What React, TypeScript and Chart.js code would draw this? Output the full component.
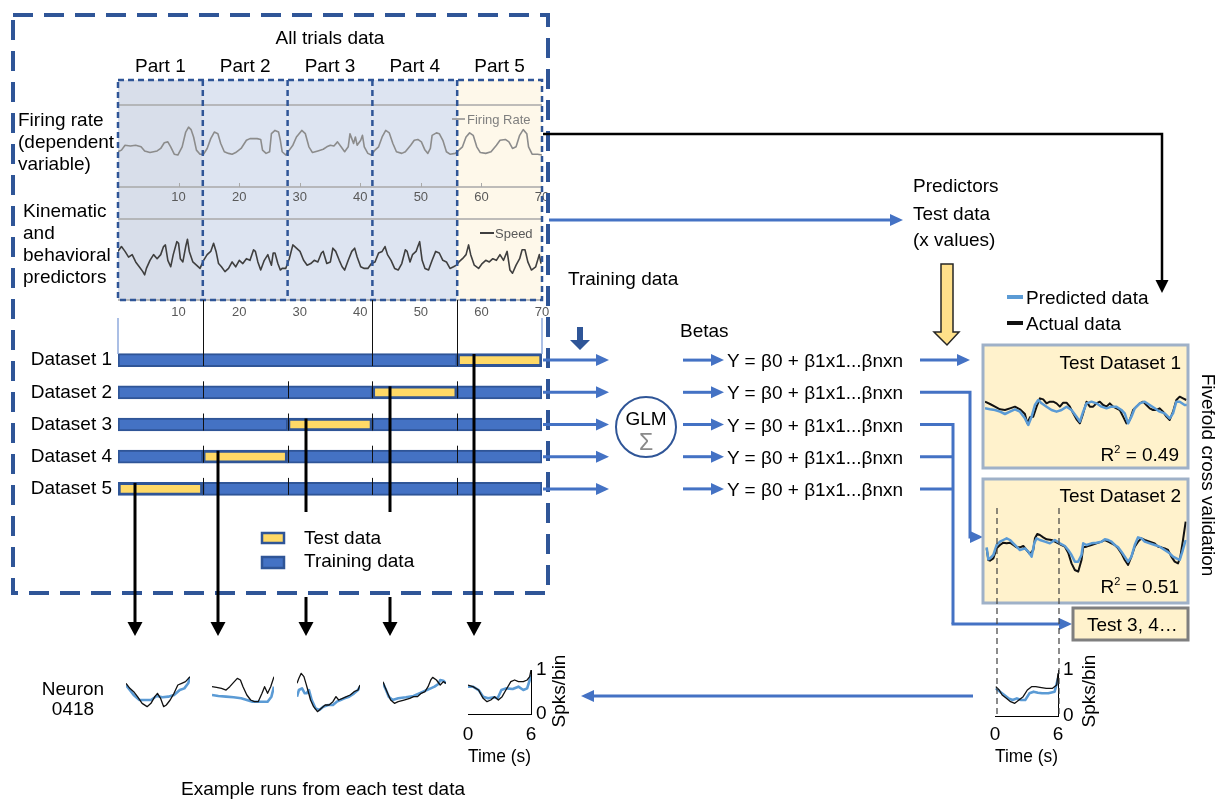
import React, { useEffect, useRef } from 'react';
import { Chart, registerables } from 'chart.js';

Chart.register(...registerables);

const FONT = '"Liberation Sans", Arial, Helvetica, sans-serif';
Chart.defaults.font.family = FONT;

// ---------------- data ----------------
const partLabels = ['Part 1', 'Part 2', 'Part 3', 'Part 4', 'Part 5'];
const partBounds = [0, 14, 28, 42, 56, 70];
const partFills = ['#D8DEEA', '#DDE4F1', '#DDE4F1', '#DDE4F1', '#FEF8EA'];
const axisMax = 70;

// Firing rate (top trace)
const frTime = [
  0, 0.57, 1.16, 2.04, 2.92, 3.81, 4.4, 5.28, 5.87, 6.46, 7.05, 7.64, 8.23, 8.7, 9.29, 9.88, 10.59, 11.18, 11.65, 12.06, 12.48, 12.95, 13.54,
  14.13, 14.72, 15.31, 15.9, 16.49, 16.96, 17.55, 18.25, 18.84, 19.43, 20.32, 21.2, 21.79, 22.97, 23.56, 23.86, 24.45, 25.03, 25.33, 25.92, 26.51, 26.8, 27.1, 27.69,
  28.28, 28.87, 29.46, 30.34, 30.93, 31.52, 32.11, 33.0, 33.88, 34.47, 35.06, 35.65, 36.24, 36.83, 37.42, 38.01, 38.3, 38.6, 38.89, 39.19, 39.48, 40.07, 40.36, 40.66, 41.25, 41.84,
  42.43, 43.02, 43.61, 44.2, 44.79, 45.38, 45.97, 46.85, 47.44, 48.32, 48.91, 49.5, 50.09, 50.68, 51.15, 51.57, 51.86, 52.57, 53.04, 53.63, 54.22, 54.81, 55.69,
  56.28, 56.87, 57.46, 58.05, 58.64, 59.23, 59.82, 60.71, 61.59, 62.48, 63.07, 63.95, 64.54, 65.13, 65.72, 66.31, 66.9, 67.49, 67.78, 68.37, 69.26, 70.0,
];
const frRate = [
  4.3, 4.5, 5.1, 5.0, 5.1, 4.9, 4.4, 4.2, 4.3, 4.4, 4.7, 5.4, 5.5, 4.9, 4.0, 3.9, 4.9, 6.7, 7.3, 7.0, 6.1, 4.5, 4.0,
  4.0, 4.7, 5.9, 6.7, 6.5, 5.3, 4.3, 4.1, 4.0, 4.2, 4.7, 5.7, 5.9, 5.9, 5.8, 4.5, 4.1, 4.3, 6.5, 6.9, 6.7, 5.7, 4.3, 3.9,
  4.5, 5.1, 6.1, 6.9, 6.5, 4.9, 4.2, 4.4, 4.6, 4.9, 5.1, 5.0, 5.5, 4.9, 4.3, 4.9, 6.5, 5.9, 5.3, 6.1, 5.1, 5.7, 6.3, 4.9, 4.1, 3.9,
  4.5, 4.9, 6.1, 6.9, 6.6, 5.3, 4.3, 4.1, 4.3, 5.1, 5.7, 5.8, 5.5, 4.5, 4.1, 4.7, 6.3, 6.6, 6.5, 5.7, 4.3, 4.0, 4.1,
  4.5, 4.9, 6.1, 6.6, 6.3, 4.9, 4.2, 4.1, 4.3, 5.1, 5.7, 5.8, 5.5, 4.7, 4.9, 6.3, 7.0, 6.5, 4.9, 4.0, 4.0, 3.9,
];

// Speed (kinematic predictor)
const spTime = [
  0, 0.57, 1.16, 1.75, 2.34, 2.92, 3.51, 4.1, 4.4, 4.69, 5.28, 5.87, 6.46, 7.05, 7.52, 7.82, 8.23, 8.7, 9.12, 9.71, 10.0, 10.29, 10.71, 11.18, 11.47, 11.77, 12.36, 12.95, 13.54,
  14.13, 14.72, 15.31, 15.78, 16.19, 16.6, 17.08, 17.66, 18.25, 18.84, 19.43, 20.02, 20.61, 21.2, 21.79, 22.38, 22.68, 23.09, 23.56, 24.15, 24.74, 25.03, 25.33, 25.62, 25.92, 26.39, 26.8, 27.1, 27.69,
  28.28, 28.87, 29.46, 30.05, 30.64, 31.23, 31.82, 32.4, 32.99, 33.58, 33.88, 34.47, 35.06, 35.47, 35.94, 36.53, 37.0, 37.42, 38.01, 38.6, 39.07, 39.48, 40.07, 40.66, 41.25, 41.84,
  42.43, 43.02, 43.61, 44.08, 44.49, 45.08, 45.67, 46.26, 46.85, 47.44, 47.73, 48.21, 48.62, 49.21, 49.5, 49.8, 50.21, 50.68, 51.27, 51.86, 52.45, 53.04, 53.63, 54.22, 54.81, 55.4, 55.87,
  56.28, 56.87, 57.46, 57.88, 58.23, 58.82, 59.53, 60.12, 60.71, 61.3, 61.88, 62.47, 63.06, 63.65, 64.24, 64.71, 65.13, 65.72, 66.31, 66.72, 67.19, 67.66, 68.25, 68.96, 69.55, 69.84,
];
const spSpeed = [
  6.0, 6.6, 6.0, 5.3, 5.6, 4.7, 4.1, 3.5, 3.1, 3.9, 4.9, 5.6, 5.1, 5.6, 6.6, 6.8, 4.9, 4.1, 5.6, 7.2, 7.0, 5.1, 4.7, 6.6, 7.5, 6.0, 4.7, 4.3, 3.9,
  4.9, 5.6, 6.0, 7.0, 6.0, 4.5, 4.1, 3.5, 3.9, 4.7, 4.1, 4.9, 4.5, 5.1, 4.9, 6.2, 6.0, 4.7, 3.7, 4.9, 5.6, 4.9, 4.3, 5.8, 5.8, 4.5, 3.7, 3.9, 3.9,
  5.1, 6.8, 6.4, 6.0, 4.9, 4.3, 4.5, 4.9, 4.7, 5.8, 6.0, 4.5, 4.7, 6.4, 6.0, 4.9, 4.1, 3.7, 4.9, 6.0, 6.4, 5.3, 4.1, 3.9, 3.9, 4.5,
  4.7, 5.8, 6.0, 6.6, 5.6, 4.9, 3.9, 3.7, 4.5, 6.2, 6.0, 4.7, 5.6, 6.0, 6.6, 7.2, 4.9, 3.9, 3.7, 4.9, 6.0, 5.8, 4.9, 4.7, 3.9, 4.1, 4.3,
  4.7, 5.1, 5.6, 6.8, 5.6, 4.3, 3.9, 4.5, 4.9, 4.7, 5.1, 4.9, 5.6, 4.9, 6.0, 3.7, 3.3, 4.3, 5.1, 6.2, 6.2, 4.7, 3.7, 4.1, 5.6, 4.5,
];

// Five-fold datasets (stacked horizontal bars)
const datasetNames = ['Dataset 1', 'Dataset 2', 'Dataset 3', 'Dataset 4', 'Dataset 5'];
const trainBefore = [56, 42, 28, 14, null];
const testPart = [14, 14, 14, 14, 14];
const trainAfter = [null, 14, 28, 42, 56];

// Test Dataset 1 panel
const td1ActT = [0, 1.5, 3, 4.5, 6, 7.5, 9, 10.5, 12, 12.7, 13.5, 14.5, 15.5, 16.5, 17.5, 18.5, 19.5, 20.5, 21.5, 22.5, 23.5, 24.5, 25.5, 26.5, 27.5, 28.5, 29.5, 30.5, 31.5, 32.5, 33.5, 34.5, 35.5, 36.5, 37.5, 38.5, 39.5, 40.5, 41.5, 42.5, 43.5, 44.5, 45.5, 46.5, 47.5, 48.5, 49.5, 50.5, 51.5, 52.5, 53.5, 54.5, 55.5, 56.5, 57.5, 58.5, 59.5, 60.5];
const td1Act = [7.5, 6.8, 6.0, 5.2, 5.0, 5.5, 6.0, 5.2, 3.8, 1.0, 2.8, 3.0, 6.0, 8.5, 8.2, 7.0, 7.5, 7.5, 7.0, 6.0, 7.2, 7.2, 6.0, 4.0, 2.2, 1.0, 4.0, 7.5, 6.0, 6.0, 7.0, 7.5, 6.5, 6.0, 7.0, 6.0, 5.5, 5.0, 3.0, 1.0, 2.0, 5.0, 6.0, 7.0, 7.5, 6.5, 5.5, 5.0, 5.0, 5.5, 4.5, 3.0, 2.0, 4.5, 8.0, 9.0, 8.5, 8.0];
const td1PredT = [0, 1.5, 3, 4.5, 6, 7.5, 9, 10.5, 12, 13, 14, 15, 16, 17, 18.5, 20, 21.5, 23, 24.5, 26, 27.5, 28.5, 29.5, 30.5, 32, 33.5, 35, 36.5, 38, 39.5, 41, 42, 43, 44, 45, 46.5, 48, 49.5, 51, 52.5, 54, 55.5, 56.5, 57.5, 58.5, 60, 61];
const td1Pred = [5.5, 5.2, 5.0, 4.5, 3.8, 4.5, 5.2, 4.5, 2.5, 0.5, 3.0, 6.5, 8.0, 7.0, 6.0, 5.0, 4.5, 5.0, 6.0, 5.0, 3.0, 1.5, 4.5, 7.0, 7.5, 7.0, 6.0, 5.5, 6.0, 6.0, 5.0, 4.0, 1.0, 3.0, 5.5, 7.0, 7.5, 6.5, 5.5, 4.5, 4.0, 2.5, 4.0, 7.5, 7.5, 6.5, 6.5];

// Test Dataset 2 panel
const td2ActT = [0.5, 1, 1.5, 2.5, 3.5, 4.5, 5.5, 6.5, 7.5, 8.5, 9.5, 10.5, 11.5, 12.5, 13.5, 14.5, 15, 15.7, 16.5, 17.5, 18.5, 20, 21, 22, 23, 24, 25, 26, 27, 28, 29, 29.5, 30.5, 32, 33.5, 35, 36, 37, 38, 39, 40, 41, 42, 43, 44, 45, 46, 47, 48, 49.5, 51, 52, 53, 54, 55, 56, 57, 58, 58.7, 59.5, 60.3];
const td2Act = [9.5, 6.0, 5.8, 6.5, 9.5, 10.5, 11.2, 11.0, 11.2, 10.5, 9.8, 9.8, 10.2, 9.0, 7.8, 9.0, 12.5, 13.8, 13.5, 12.8, 12.2, 12.0, 11.5, 11.0, 10.5, 10.0, 8.2, 5.0, 3.0, 2.5, 6.0, 9.8, 10.0, 10.5, 11.0, 11.5, 12.0, 11.5, 11.0, 10.5, 9.5, 8.0, 6.0, 4.5, 7.0, 10.0, 11.5, 12.5, 12.0, 11.5, 11.0, 10.0, 9.8, 9.5, 9.0, 7.0, 5.5, 5.0, 7.0, 12.0, 17.5];
const td2PredT = [0.5, 1, 1.5, 2.5, 3.5, 4.5, 5.5, 6.5, 7.5, 8.5, 9.5, 10.5, 12, 13, 14, 14.8, 15.5, 16.5, 18, 19.5, 21, 22.5, 24, 25, 26, 27, 28, 29, 29.5, 30.5, 32, 33.5, 35, 36, 37, 38, 39, 40, 41, 42, 43, 44, 45, 46, 47, 48, 49.5, 51, 52.5, 54, 55.5, 56.5, 57.5, 58.5, 59.3, 60.3];
const td2Pred = [9.8, 6.2, 6.5, 7.5, 10.5, 11.5, 12.0, 12.5, 12.0, 11.0, 10.0, 9.0, 9.5, 8.5, 7.0, 11.0, 12.5, 12.0, 11.5, 11.0, 12.0, 11.0, 10.2, 9.0, 7.5, 5.5, 5.5, 7.5, 11.0, 10.5, 11.0, 11.2, 11.5, 12.2, 12.0, 11.5, 10.5, 9.8, 8.5, 7.0, 5.5, 7.0, 10.5, 12.8, 12.5, 11.5, 11.0, 10.5, 10.0, 9.0, 8.0, 7.0, 6.5, 6.0, 8.5, 12.0];

// Example runs (Spks/bin over 0-6 s)
const ex1ActT = [0, 0.36, 0.72, 1.08, 1.51, 1.98, 2.34, 2.7, 2.95, 3.24, 3.53, 3.78, 4.14, 4.5, 4.86, 5.22, 5.58, 6.0];
const ex1Act = [0.697, 0.583, 0.508, 0.394, 0.242, 0.167, 0.242, 0.394, 0.47, 0.356, 0.167, 0.205, 0.318, 0.47, 0.659, 0.697, 0.735, 0.848];
const ex1PredT = [0, 0.36, 0.72, 1.26, 1.8, 2.34, 2.88, 3.42, 3.96, 4.5, 5.04, 5.47, 5.83, 6.0];
const ex1Pred = [0.659, 0.545, 0.432, 0.318, 0.318, 0.318, 0.409, 0.379, 0.394, 0.432, 0.545, 0.583, 0.697, 0.833];

const ex2ActT = [0, 0.44, 0.92, 1.36, 1.72, 2.16, 2.45, 2.75, 3.0, 3.37, 3.74, 4.1, 4.47, 4.84, 5.09, 5.38, 5.68, 6.0];
const ex2Act = [0.621, 0.606, 0.583, 0.545, 0.621, 0.735, 0.811, 0.773, 0.621, 0.432, 0.318, 0.28, 0.28, 0.47, 0.621, 0.47, 0.621, 0.848];
const ex2PredT = [0, 0.62, 1.36, 2.09, 2.82, 3.37, 3.92, 4.65, 5.38, 5.75, 6.0];
const ex2Pred = [0.432, 0.409, 0.394, 0.379, 0.356, 0.318, 0.28, 0.28, 0.28, 0.394, 0.621];

const ex3ActT = [0, 0.18, 0.4, 0.66, 0.85, 1.03, 1.29, 1.58, 1.95, 2.32, 2.68, 3.05, 3.42, 3.71, 3.97, 4.34, 4.71, 5.07, 5.44, 5.81, 6.0];
const ex3Act = [0.697, 0.811, 0.924, 0.848, 0.697, 0.545, 0.318, 0.167, 0.053, 0.129, 0.205, 0.205, 0.28, 0.394, 0.318, 0.356, 0.394, 0.432, 0.508, 0.545, 0.659];
const ex3PredT = [0, 0.18, 0.48, 0.74, 0.92, 1.14, 1.4, 1.76, 2.13, 2.5, 2.98, 3.42, 3.79, 4.15, 4.52, 4.96, 5.44, 5.81, 6.0];
const ex3Pred = [0.394, 0.545, 0.583, 0.47, 0.47, 0.545, 0.318, 0.129, 0.091, 0.167, 0.205, 0.205, 0.28, 0.318, 0.356, 0.394, 0.47, 0.545, 0.621];

const ex4ActT = [0, 0.18, 0.44, 0.73, 1.09, 1.45, 2.0, 2.55, 2.91, 3.27, 3.64, 4.0, 4.29, 4.55, 4.73, 5.09, 5.45, 5.75, 6.0];
const ex4Act = [0.735, 0.621, 0.47, 0.318, 0.242, 0.28, 0.318, 0.356, 0.394, 0.394, 0.47, 0.508, 0.621, 0.773, 0.833, 0.773, 0.659, 0.735, 0.697];
const ex4PredT = [0, 0.29, 0.55, 0.91, 1.45, 2.18, 2.91, 3.45, 3.82, 4.18, 4.55, 4.91, 5.27, 5.45, 5.75, 6.0];
const ex4Pred = [0.697, 0.545, 0.394, 0.318, 0.356, 0.379, 0.409, 0.47, 0.508, 0.545, 0.583, 0.621, 0.682, 0.773, 0.758, 0.697];

const ex5ActT = [0, 0.47, 1.01, 1.44, 1.81, 2.17, 2.53, 2.89, 3.25, 3.61, 4.08, 4.44, 4.8, 5.27, 5.63, 5.88, 6.0];
const ex5Act = [0.659, 0.621, 0.545, 0.356, 0.28, 0.318, 0.394, 0.318, 0.394, 0.545, 0.735, 0.773, 0.735, 0.735, 0.773, 0.848, 1.0];
const ex5PredT = [0, 0.47, 1.01, 1.44, 1.91, 2.45, 2.82, 3.18, 3.61, 4.26, 4.8, 5.27, 5.63, 5.88, 6.0];
const ex5Pred = [0.621, 0.621, 0.545, 0.394, 0.356, 0.379, 0.356, 0.545, 0.583, 0.568, 0.621, 0.545, 0.583, 0.773, 0.886];

const exZoomActT = [0.08, 0.4, 0.68, 1.08, 1.48, 1.88, 2.28, 2.68, 3.08, 3.48, 3.88, 4.28, 4.88, 5.48, 5.88, 6.0];
const exZoomAct = [0.638, 0.565, 0.457, 0.384, 0.312, 0.275, 0.348, 0.42, 0.565, 0.638, 0.638, 0.623, 0.601, 0.601, 0.674, 0.928];
const exZoomPredT = [0.08, 0.48, 0.88, 1.28, 1.68, 2.08, 2.48, 2.88, 3.28, 3.68, 4.08, 4.48, 5.08, 5.68, 6.0];
const exZoomPred = [0.601, 0.529, 0.457, 0.384, 0.348, 0.384, 0.348, 0.348, 0.493, 0.529, 0.507, 0.493, 0.493, 0.529, 0.819];

const equation = 'Y = \u03B20 + \u03B21x1...\u03B2nxn';

// ---------------- style constants ----------------
const BLUE = '#4472C4';
const DARK = '#2F5597';
const PRED = '#5B9BD5';
const AX_L = 118;
const AX_R = 542;
const sx = (v: number) => AX_L + (v / axisMax) * (AX_R - AX_L);
const BAR_TOP = 344;
const BAR_H = 161;
const rowY = (i: number) => BAR_TOP + (BAR_H * (i + 0.5)) / 5;

const pts = (xs: number[], ys: number[]) => xs.map((x, i) => ({ x, y: ys[i] }));

const baseOpts = (extra: any = {}) => ({
  responsive: false,
  animation: false,
  devicePixelRatio: 1,
  events: [],
  plugins: { legend: { display: false }, tooltip: { enabled: false } },
  ...extra,
});

const lineDs = (data: any, color: string, width: number) => ({
  data,
  borderColor: color,
  borderWidth: width,
  pointRadius: 0,
  tension: 0,
  fill: false,
  borderJoinStyle: 'round',
});

function ChartCanvas({ x, y, w, h, build }: { x: number; y: number; w: number; h: number; build: () => any }) {
  const ref = useRef<HTMLCanvasElement | null>(null);
  useEffect(() => {
    const chart = new Chart(ref.current as HTMLCanvasElement, build());
    return () => chart.destroy();
  }, []);
  return (
    <canvas
      ref={ref}
      width={w}
      height={h}
      style={{ position: 'absolute', left: x, top: y, width: w, height: h, zIndex: 1 }}
    />
  );
}

// plugins
const framePlugin = {
  id: 'frameLines',
  beforeDatasetsDraw(chart: any) {
    const { ctx, chartArea, scales } = chart;
    const ys = scales.y;
    ctx.save();
    ctx.strokeStyle = '#A9A9A9';
    ctx.lineWidth = 1.5;
    [ys.max, ys.min].forEach((v: number) => {
      const py = ys.getPixelForValue(v);
      ctx.beginPath();
      ctx.moveTo(chartArea.left, py);
      ctx.lineTo(chartArea.right, py);
      ctx.stroke();
    });
    ctx.restore();
  },
};

const innerTickPlugin = {
  id: 'innerTicks',
  afterDatasetsDraw(chart: any) {
    const { ctx, chartArea, scales } = chart;
    const xs = scales.x;
    ctx.save();
    ctx.strokeStyle = '#A9A9A9';
    ctx.lineWidth = 1;
    xs.ticks.forEach((t: any) => {
      if (t.value <= 0 || t.value >= axisMax) return;
      const px = Math.round(xs.getPixelForValue(t.value)) + 0.5;
      ctx.beginPath();
      ctx.moveTo(px, chartArea.bottom - 4);
      ctx.lineTo(px, chartArea.bottom);
      ctx.stroke();
    });
    ctx.restore();
  },
};

const barTickPlugin = {
  id: 'barTicks',
  afterDatasetsDraw(chart: any) {
    const { ctx, scales } = chart;
    ctx.save();
    ctx.strokeStyle = '#111';
    ctx.lineWidth = 1;
    for (let i = 1; i < datasetNames.length; i++) {
      const py = scales.y.getPixelForValue(i);
      partBounds.slice(1, -1).forEach((b) => {
        const px = Math.round(scales.x.getPixelForValue(b)) + 0.5;
        ctx.beginPath();
        ctx.moveTo(px, py - 11);
        ctx.lineTo(px, py + 6);
        ctx.stroke();
      });
    }
    ctx.restore();
  },
};

const signalChart = (xs: number[], ys: number[], color: string, labelPad: number, withTicks: boolean) => () => ({
  type: 'line',
  data: { datasets: [lineDs(pts(xs, ys), color, 1.6)] },
  options: baseOpts({
    layout: { padding: { left: 20, right: 20, top: 10, bottom: 0 } },
    scales: {
      x: {
        type: 'linear',
        min: 0,
        max: axisMax,
        grid: { display: false, drawTicks: false },
        border: { display: false },
        ticks: {
          stepSize: 10,
          padding: labelPad,
          color: '#595959',
          font: { size: 13 },
          maxRotation: 0,
          autoSkip: false,
          callback: (v: any) => (v === 0 ? '' : String(v)),
        },
        afterFit: (s: any) => {
          s.height = 18;
          s.paddingLeft = 0;
          s.paddingRight = 0;
        },
      },
      y: { display: false, min: 0, max: 10 },
    },
  }),
  plugins: withTicks ? [framePlugin, innerTickPlugin] : [framePlugin],
});

const barChart = () => {
  const common = { borderColor: DARK, borderSkipped: false, barThickness: 13 };
  return {
    type: 'bar',
    data: {
      labels: datasetNames,
      datasets: [
        { data: trainBefore, backgroundColor: BLUE, borderWidth: 2, ...common },
        { data: testPart, backgroundColor: '#FFD966', borderWidth: 3, ...common },
        { data: trainAfter, backgroundColor: BLUE, borderWidth: 2, ...common },
      ],
    },
    options: baseOpts({
      indexAxis: 'y',
      layout: { padding: 0 },
      scales: {
        x: { type: 'linear', display: false, min: 0, max: axisMax, stacked: true },
        y: {
          stacked: true,
          grid: { display: false, drawTicks: false },
          border: { display: false },
          ticks: { color: '#000', font: { size: 19 }, padding: 6, autoSkip: false },
          afterFit: (s: any) => {
            s.width = AX_L;
            s.paddingTop = 0;
            s.paddingBottom = 0;
          },
        },
      },
    }),
    plugins: [barTickPlugin],
  };
};

const panelChart = (predT: number[], pred: number[], actT: number[], act: number[], yMin: number, yMax: number) => () => ({
  type: 'line',
  data: {
    datasets: [lineDs(pts(predT, pred), PRED, 2.5), lineDs(pts(actT, act), '#111', 2)],
  },
  options: baseOpts({
    layout: { padding: 0 },
    scales: {
      x: { type: 'linear', display: false, min: 0, max: 61 },
      y: { display: false, min: yMin, max: yMax },
    },
  }),
});

const smallChart = (actT: number[], act: number[], predT: number[], pred: number[]) => () => ({
  type: 'line',
  data: {
    datasets: [lineDs(pts(actT, act), '#111', 1.3), lineDs(pts(predT, pred), PRED, 2.6)],
  },
  options: baseOpts({
    layout: { padding: 4 },
    scales: {
      x: { type: 'linear', display: false, min: 0, max: 6 },
      y: { display: false, min: 0, max: 1 },
    },
  }),
});

const axisChart = (actT: number[], act: number[], predT: number[], pred: number[], tickPad: number, xAxisH: number) => () => ({
  type: 'line',
  data: {
    datasets: [lineDs(pts(actT, act), '#111', 1.3), lineDs(pts(predT, pred), PRED, 2.6)],
  },
  options: baseOpts({
    layout: { padding: { left: 10, top: 12, right: 0, bottom: 0 } },
    scales: {
      x: {
        type: 'linear',
        min: 0,
        max: 6,
        position: 'bottom',
        grid: { display: false, drawTicks: false },
        border: { display: true, color: '#000', width: 1 },
        ticks: { stepSize: 6, padding: tickPad, color: '#000', font: { size: 19 }, maxRotation: 0 },
        title: { display: true, text: 'Time (s)', color: '#000', font: { size: 19 }, padding: 0 },
        afterFit: (s: any) => {
          s.height = xAxisH;
          s.paddingLeft = 0;
          s.paddingRight = 0;
        },
      },
      y: {
        min: 0,
        max: 1,
        position: 'right',
        grid: { display: false, drawTicks: false },
        border: { display: true, color: '#000', width: 1 },
        ticks: { stepSize: 1, padding: 5, color: '#000', font: { size: 19 } },
        afterFit: (s: any) => {
          s.width = 20;
          s.paddingTop = 0;
          s.paddingBottom = 0;
        },
      },
    },
  }),
});

// ---------------- svg helpers ----------------
function ArrowH({ x1, x2, y, color, w = 3, hl = 13, hw = 12 }: any) {
  const dir = x2 > x1 ? 1 : -1;
  const base = x2 - dir * hl;
  return (
    <g>
      <line x1={x1} y1={y} x2={base + dir * 1} y2={y} stroke={color} strokeWidth={w} />
      <polygon points={`${x2},${y} ${base},${y - hw / 2} ${base},${y + hw / 2}`} fill={color} />
    </g>
  );
}

function ArrowDown({ x, y1, y2, color, w = 3, hl = 14, hw = 15 }: any) {
  const base = y2 - hl;
  return (
    <g>
      <line x1={x} y1={y1} x2={x} y2={base + 1} stroke={color} strokeWidth={w} />
      <polygon points={`${x},${y2} ${x - hw / 2},${base} ${x + hw / 2},${base}`} fill={color} />
    </g>
  );
}

function Txt({ x, y, children, size = 19, anchor = 'start', fill = '#000', transform, weight }: any) {
  return (
    <text
      x={x}
      y={y}
      fontSize={size}
      textAnchor={anchor}
      fill={fill}
      fontFamily={FONT}
      transform={transform}
      fontWeight={weight}
    >
      {children}
    </text>
  );
}

export default function App() {
  const partCenters = partLabels.map((_, i) => sx((partBounds[i] + partBounds[i + 1]) / 2));
  const blackDrops = [
    { x: 474, top: rowY(0) - 6, breakAt: null },
    { x: 390, top: rowY(1) - 6, breakAt: 512 },
    { x: 306, top: rowY(2) - 6, breakAt: 512 },
    { x: 218, top: rowY(3) - 6, breakAt: null },
    { x: 135, top: rowY(4) - 6, breakAt: null },
  ];

  return (
    <div
      style={{
        position: 'absolute',
        left: 0,
        top: 0,
        width: 1217,
        height: 799,
        background: '#fff',
        overflow: 'hidden',
        fontFamily: FONT,
      }}
    >
      {/* background layer */}
      <svg width={1217} height={799} style={{ position: 'absolute', left: 0, top: 0, zIndex: 0 }}>
        {partLabels.map((_, i) => (
          <rect
            key={i}
            x={sx(partBounds[i])}
            y={80}
            width={sx(partBounds[i + 1]) - sx(partBounds[i])}
            height={220}
            fill={partFills[i]}
          />
        ))}
        <rect x={983} y={345} width={205} height={123} fill="#FFF2CC" />
        <rect x={983} y={479} width={205} height={124} fill="#FFF2CC" />
      </svg>

      {/* charts */}
      <ChartCanvas x={98} y={95} w={464} h={110} build={signalChart(frTime, frRate, '#8C8C8C', 3, true)} />
      <ChartCanvas x={98} y={209} w={464} h={109} build={signalChart(spTime, spSpeed, '#3F3F3F', 5, false)} />
      <ChartCanvas x={0} y={BAR_TOP} w={AX_R} h={BAR_H} build={barChart} />
      <ChartCanvas x={985} y={390} w={203} h={40} build={panelChart(td1PredT, td1Pred, td1ActT, td1Act, -1, 11)} />
      <ChartCanvas x={985} y={515} w={203} h={65} build={panelChart(td2PredT, td2Pred, td2ActT, td2Act, 0, 19.5)} />
      <ChartCanvas x={122} y={666} w={72} h={52} build={smallChart(ex1ActT, ex1Act, ex1PredT, ex1Pred)} />
      <ChartCanvas x={208} y={666} w={70} h={52} build={smallChart(ex2ActT, ex2Act, ex2PredT, ex2Pred)} />
      <ChartCanvas x={293} y={666} w={71} h={52} build={smallChart(ex3ActT, ex3Act, ex3PredT, ex3Pred)} />
      <ChartCanvas x={379} y={666} w={71} h={52} build={smallChart(ex4ActT, ex4Act, ex4PredT, ex4Pred)} />
      <ChartCanvas x={458} y={658} w={93} h={110} build={axisChart(ex5ActT, ex5Act, ex5PredT, ex5Pred, 9, 54)} />
      <ChartCanvas x={985} y={658} w={93} h={110} build={axisChart(exZoomActT, exZoomAct, exZoomPredT, exZoomPred, 7, 52)} />

      {/* foreground layer */}
      <svg width={1217} height={799} style={{ position: 'absolute', left: 0, top: 0, zIndex: 2 }}>
        {/* outer dashed frame */}
        <rect x={13} y={15} width={535} height={578} fill="none" stroke={DARK} strokeWidth={4} strokeDasharray="20 11" />
        {/* inner dotted part frame */}
        <rect x={AX_L} y={80} width={AX_R - AX_L} height={220} fill="none" stroke={DARK} strokeWidth={2.5} strokeDasharray="6 4" />
        {partBounds.slice(1, -1).map((b) => (
          <line key={b} x1={sx(b)} y1={80} x2={sx(b)} y2={300} stroke={DARK} strokeWidth={2.5} strokeDasharray="6 4" />
        ))}

        <Txt x={330} y={44} anchor="middle">All trials data</Txt>
        {partLabels.map((p, i) => (
          <Txt key={p} x={partCenters[i]} y={72} anchor="middle">{p}</Txt>
        ))}

        <Txt x={18} y={126}>Firing rate</Txt>
        <Txt x={18} y={148}>(dependent</Txt>
        <Txt x={18} y={170}>variable)</Txt>
        <Txt x={23} y={217}>Kinematic</Txt>
        <Txt x={23} y={239}>and</Txt>
        <Txt x={23} y={261}>behavioral</Txt>
        <Txt x={23} y={283}>predictors</Txt>

        {/* chart legends */}
        <line x1={452} y1={119} x2={465} y2={119} stroke="#8C8C8C" strokeWidth={1.5} />
        <Txt x={467} y={124} size={13} fill="#7F7F7F">Firing Rate</Txt>
        <line x1={480} y1={233} x2={494} y2={233} stroke="#3F3F3F" strokeWidth={2} />
        <Txt x={495} y={238} size={13} fill="#595959">Speed</Txt>

        {/* axis-to-bars connectors */}
        <line x1={AX_L} y1={318} x2={AX_L} y2={354} stroke="#8FAADC" strokeWidth={1.5} />
        <line x1={AX_R} y1={318} x2={AX_R} y2={354} stroke="#8FAADC" strokeWidth={1.5} />
        {[14, 42, 56].map((b) => (
          <line key={b} x1={Math.round(sx(b)) + 0.5} y1={300} x2={Math.round(sx(b)) + 0.5} y2={366} stroke="#111" strokeWidth={1} />
        ))}

        {/* black drops to example runs */}
        {blackDrops.map((d, i) =>
          d.breakAt ? (
            <g key={i}>
              <line x1={d.x} y1={d.top} x2={d.x} y2={d.breakAt} stroke="#000" strokeWidth={3} />
              <ArrowDown x={d.x} y1={597} y2={636} color="#000" />
            </g>
          ) : (
            <ArrowDown key={i} x={d.x} y1={d.top} y2={636} color="#000" />
          ),
        )}

        {/* legend */}
        <rect x={262} y={533} width={22} height={10} fill="#FFD966" stroke={DARK} strokeWidth={2.5} />
        <Txt x={304} y={544}>Test data</Txt>
        <rect x={262} y={557} width={22} height={11} fill={BLUE} stroke={DARK} strokeWidth={2.5} />
        <Txt x={304} y={567}>Training data</Txt>

        {/* arrows bars -> GLM */}
        {datasetNames.map((_, i) => (
          <ArrowH key={'a' + i} x1={543} x2={609} y={rowY(i)} color={BLUE} />
        ))}
        <Txt x={568} y={285}>Training data</Txt>
        <polygon points="577,327 583,327 583,340 590,340 580,350 570,340 577,340" fill={DARK} />

        {/* GLM */}
        <circle cx={646} cy={427} r={30} fill="#fff" stroke={DARK} strokeWidth={2} />
        <Txt x={646} y={425} anchor="middle">GLM</Txt>
        <Txt x={646} y={450} anchor="middle" size={23} fill="#8A8A8A">{'\u03A3'}</Txt>
        <Txt x={680} y={337}>Betas</Txt>
        {datasetNames.map((_, i) => (
          <g key={'e' + i}>
            <ArrowH x1={683} x2={724} y={rowY(i)} color={BLUE} />
            <Txt x={727} y={rowY(i) + 7}>{equation}</Txt>
          </g>
        ))}

        {/* equation outputs */}
        <ArrowH x1={920} x2={970} y={rowY(0)} color={BLUE} />
        <polyline points={`920,${rowY(1)} 970,${rowY(1)} 970,537 972,537`} fill="none" stroke={BLUE} strokeWidth={3} />
        <polygon points="983,537 970,531 970,543" fill={BLUE} />
        {[2, 3, 4].map((i) => (
          <line key={'o' + i} x1={920} y1={rowY(i)} x2={953} y2={rowY(i)} stroke={BLUE} strokeWidth={3} />
        ))}
        <line x1={953} y1={rowY(2) - 1.5} x2={953} y2={624} stroke={BLUE} strokeWidth={3} />
        <ArrowH x1={951.5} x2={1072} y={624} color={BLUE} />

        {/* predictors arrow */}
        <ArrowH x1={549} x2={903} y={220} color={BLUE} />
        <Txt x={913} y={192}>Predictors</Txt>
        <Txt x={913} y={220}>Test data</Txt>
        <Txt x={913} y={246}>(x values)</Txt>
        <polygon points="941,264 953,264 953,332 959,332 947,345 934,332 941,332" fill="#FFE08A" stroke="#262626" strokeWidth={1.5} />

        {/* firing rate -> actual data */}
        <polyline points="543,134 1162,134 1162,281" fill="none" stroke="#000" strokeWidth={2.5} />
        <polygon points="1162,293 1155.5,280 1168.5,280" fill="#000" />

        {/* legend predicted/actual */}
        <line x1={1007} y1={297} x2={1023} y2={297} stroke={PRED} strokeWidth={4} />
        <Txt x={1026} y={304}>Predicted data</Txt>
        <line x1={1007} y1={323} x2={1023} y2={323} stroke="#111" strokeWidth={4} />
        <Txt x={1026} y={330}>Actual data</Txt>

        {/* panels */}
        <rect x={983} y={345} width={205} height={123} fill="none" stroke="#9FB1C8" strokeWidth={3} />
        <Txt x={1181} y={369} anchor="end">Test Dataset 1</Txt>
        <text x={1179} y={461} fontSize={19} textAnchor="end" fontFamily={FONT} fill="#000">
          R<tspan fontSize={11} dy={-8}>2</tspan>
          <tspan dy={8}> = 0.49</tspan>
        </text>
        <rect x={983} y={479} width={205} height={124} fill="none" stroke="#9FB1C8" strokeWidth={3} />
        <Txt x={1181} y={502} anchor="end">Test Dataset 2</Txt>
        <text x={1179} y={593} fontSize={19} textAnchor="end" fontFamily={FONT} fill="#000">
          R<tspan fontSize={11} dy={-8}>2</tspan>
          <tspan dy={8}> = 0.51</tspan>
        </text>
        <rect x={1073} y={608} width={115} height={32} fill="#FFF2CC" stroke="#7F7F7F" strokeWidth={3} />
        <Txt x={1087} y={631}>Test 3, 4{'\u2026'}</Txt>

        <Txt x={0} y={0} anchor="middle" transform="translate(1202,475) rotate(90)">Fivefold cross validation</Txt>

        {/* zoom dashed guides */}
        <line x1={997} y1={508} x2={997} y2={716} stroke="#404040" strokeWidth={1.2} strokeDasharray="6 4" />
        <line x1={1059} y1={508} x2={1059} y2={716} stroke="#404040" strokeWidth={1.2} strokeDasharray="6 4" />
        <ArrowH x1={973} x2={581} y={696} color={BLUE} />

        {/* bottom labels */}
        <Txt x={73} y={695} anchor="middle">Neuron</Txt>
        <Txt x={73} y={715} anchor="middle">0418</Txt>
        <Txt x={0} y={0} anchor="middle" transform="translate(565,691) rotate(-90)">Spks/bin</Txt>
        <Txt x={0} y={0} anchor="middle" transform="translate(1095,691) rotate(-90)">Spks/bin</Txt>
        <Txt x={323} y={795} anchor="middle">Example runs from each test data</Txt>
      </svg>
    </div>
  );
}
